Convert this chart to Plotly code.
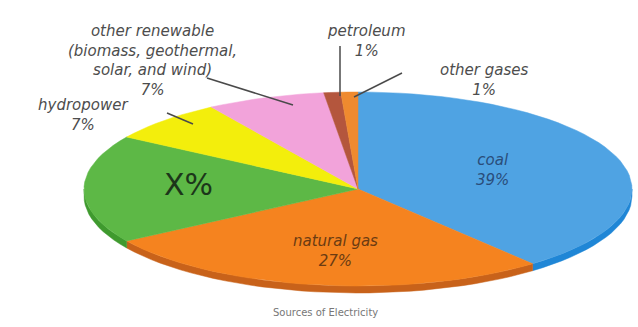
import numpy as np
import plotly.graph_objects as go

# ---- data ----
sources = ["coal", "natural gas", "X", "hydropower", "other renewable", "petroleum", "other gases"]
shares = [39, 27, 18, 7, 7, 1, 1]
top_colors = ["#4fa3e3", "#f5831f", "#5db846", "#f3ee0c", "#f2a3da", "#b4563d", "#ef8a2f"]
side_colors = ["#1f86d6", "#c8621a", "#3f9a2e", "#c9c400", "#cf82b8", "#8a3a25", "#c86a1c"]

W, H = 638, 327
CX, CY, RX, RY = 358, 189, 274, 97   # pixel geometry of the ellipse
DEPTH = 7 / RY                        # side thickness in data units

fig = go.Figure()

total = sum(shares)
bounds = np.concatenate([[0], np.cumsum(shares)]) / total * 360.0

def arc(a0, a1, dy=0.0, n=120):
    t = np.radians(np.linspace(a0, a1, max(3, int(n * (a1 - a0) / 360) + 3)))
    return np.sin(t), np.cos(t) + dy

# side faces (front, lower half: 90..270 deg)
for i in range(len(shares)):
    a0, a1 = bounds[i], bounds[i + 1]
    s0, s1 = max(a0, 90), min(a1, 270)
    if s1 > s0:
        xt, yt = arc(s0, s1)
        xb, yb = arc(s0, s1, -DEPTH)
        xs = np.concatenate([xt, xb[::-1], xt[:1]])
        ys = np.concatenate([yt, yb[::-1], yt[:1]])
        fig.add_trace(go.Scatter(x=xs, y=ys, fill="toself", mode="lines",
                                 fillcolor=side_colors[i],
                                 line=dict(color=side_colors[i], width=0.5),
                                 hoverinfo="skip", showlegend=False))

# top faces
for i in range(len(shares)):
    a0, a1 = bounds[i], bounds[i + 1]
    xa, ya = arc(a0, a1)
    xs = np.concatenate([[0], xa, [0]])
    ys = np.concatenate([[0], ya, [0]])
    fig.add_trace(go.Scatter(x=xs, y=ys, fill="toself", mode="lines",
                             fillcolor=top_colors[i],
                             line=dict(color=top_colors[i], width=0.5),
                             name=sources[i], hoverinfo="name+text",
                             text=f"{shares[i]}%", showlegend=False))

def px(x):
    return x / W

def py(y):
    return 1 - y / H

def note(text, x, y, font):
    return dict(text=text, x=px(x), y=py(y), xref="paper", yref="paper",
                xanchor="center", yanchor="middle", align="center",
                showarrow=False, font=font)

LBL = dict(family="DejaVu Sans", size=15, color="#4d4d4d")
COAL = dict(family="DejaVu Sans", size=15, color="#2a4d7a")
GAS = dict(family="DejaVu Sans", size=15, color="#6b3b12")

ann = [
    note(f"<i>other renewable<br>(biomass, geothermal,<br>solar, and wind)<br>{shares[4]}%</i>",
         152, 60, LBL),
    note(f"<i>hydropower<br>{shares[3]}%</i>", 83, 115, LBL),
    note(f"<i>petroleum<br>{shares[5]}%</i>", 366, 41, LBL),
    note(f"<i>other gases<br>{shares[6]}%</i>", 484, 80, LBL),
    note(f"<i>coal<br>{shares[0]}%</i>", 492, 170, COAL),
    note(f"<i>natural gas<br>{shares[1]}%</i>", 335, 251, GAS),
    note("X%", 188, 184, dict(family="DejaVu Sans", size=30, color="#1c361a")),
    note("Sources of Electricity", 325, 312, dict(family="DejaVu Sans", size=10, color="#777777")),
]

lines = [((207, 78), (293, 105)), ((167, 113), (193, 124)),
         ((340, 46), (340, 96)), ((402, 73), (354, 97))]
shapes = [dict(type="line", xref="paper", yref="paper",
               x0=px(a[0]), y0=py(a[1]), x1=px(b[0]), y1=py(b[1]),
               line=dict(color="#4a4a4a", width=1.5)) for a, b in lines]

fig.update_layout(
    width=W, height=H, margin=dict(l=0, r=0, t=0, b=0),
    paper_bgcolor="white", plot_bgcolor="white",
    xaxis=dict(range=[-CX / RX, (W - CX) / RX], visible=False, fixedrange=True),
    yaxis=dict(range=[(CY - H) / RY, CY / RY], visible=False, fixedrange=True),
    annotations=ann, shapes=shapes, showlegend=False,
)

fig.write_html("out.html", config={"displayModeBar": False},
               post_script="document.body.style.margin='0';document.body.style.overflow='hidden';")
